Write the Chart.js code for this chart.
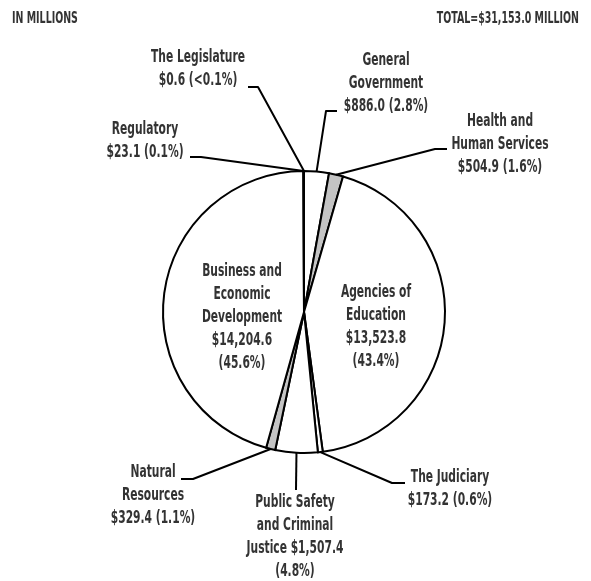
<!DOCTYPE html>
<html>
<head>
<meta charset="utf-8">
<script src="https://cdn.jsdelivr.net/npm/chart.js@4/dist/chart.umd.min.js"></script>
<style>
  html, body { margin: 0; padding: 0; background: #fff; }
  #wrap { position: relative; width: 591px; height: 581px; }
</style>
</head>
<body>
<div id="wrap"><canvas id="budget-pie" width="591" height="581"></canvas></div>
<script>
// 数据（顺时针，从 12 点方向开始）
const categories = [
  'General Government', 'Health and Human Services', 'Agencies of Education',
  'The Judiciary', 'Public Safety and Criminal Justice', 'Natural Resources',
  'Business and Economic Development', 'Regulatory', 'The Legislature'
];
const amounts = [886.0, 504.9, 13523.8, 173.2, 1507.4, 329.4, 14204.6, 23.1, 0.6];
const shares = ['2.8%', '1.6%', '43.4%', '0.6%', '4.8%', '1.1%', '45.6%', '0.1%', '<0.1%'];
const labelLines = [
  ['General', 'Government', '$886.0 (2.8%)'],
  ['Health and', 'Human Services', '$504.9 (1.6%)'],
  ['Agencies of', 'Education', '$13,523.8', '(43.4%)'],
  ['The Judiciary', '$173.2 (0.6%)'],
  ['Public Safety', 'and Criminal', 'Justice $1,507.4', '(4.8%)'],
  ['Natural', 'Resources', '$329.4 (1.1%)'],
  ['Business and', 'Economic', 'Development', '$14,204.6', '(45.6%)'],
  ['Regulatory', '$23.1 (0.1%)'],
  ['The Legislature', '$0.6 (<0.1%)']
];
const sliceColors = ['#ffffff', '#c4c4c4', '#ffffff', '#ffffff', '#ffffff', '#c4c4c4', '#ffffff', '#ffffff', '#ffffff'];
const unitNote = 'IN MILLIONS';
const totalNote = 'TOTAL=$31,153.0 MILLION';

// 标签布局：文字中心 x、首行 y、引线折点（null 表示在饼内，无引线）
const labelLayout = [
  { x: 386, y: 61, elbow: [[337, 111], [326, 111]] },
  { x: 500, y: 122, elbow: [[447, 149], [435, 149]] },
  { x: 376, y: 293, elbow: null },
  { x: 450, y: 478, elbow: [[405, 483], [392, 483]] },
  { x: 295, y: 503, elbow: [[296, 490]] },
  { x: 153, y: 473, elbow: [[181, 479], [193, 479]] },
  { x: 242, y: 272, elbow: null },
  { x: 145, y: 130, elbow: [[190, 157], [201, 157]] },
  { x: 198, y: 58, elbow: [[248, 87], [258, 87]] }
];

const FONT = '"DejaVu Sans Condensed", "DejaVu Sans", sans-serif';
const TEXT_COLOR = '#333333';
const LINE_H = 23;
const SQUEEZE = 0.7; // 横向压缩，近似原图的窄体字

function squeezedText(ctx, t, x, y) {
  ctx.save();
  ctx.translate(x, y);
  ctx.scale(SQUEEZE, 1);
  ctx.fillText(t, 0, 0);
  ctx.restore();
}

// 自绘标签与引线
const calloutPlugin = {
  id: 'callouts',
  afterDatasetsDraw(chart) {
    const { ctx } = chart;
    const arcs = chart.getDatasetMeta(0).data;
    ctx.save();
    ctx.strokeStyle = '#000';
    ctx.lineWidth = 2;
    ctx.lineJoin = 'round';
    arcs.forEach((arc, i) => {
      const lay = labelLayout[i];
      if (!lay.elbow) return;
      const { x, y, startAngle, endAngle, outerRadius } = arc.getProps(['x', 'y', 'startAngle', 'endAngle', 'outerRadius'], true);
      const mid = (startAngle + endAngle) / 2;
      const ax = x + Math.cos(mid) * outerRadius;
      const ay = y + Math.sin(mid) * outerRadius;
      ctx.beginPath();
      ctx.moveTo(lay.elbow[0][0], lay.elbow[0][1]);
      lay.elbow.slice(1).forEach(p => ctx.lineTo(p[0], p[1]));
      ctx.lineTo(ax, ay);
      ctx.stroke();
    });

    ctx.fillStyle = TEXT_COLOR;
    ctx.font = `bold 17px ${FONT}`;
    ctx.textAlign = 'center';
    ctx.textBaseline = 'middle';
    labelLines.forEach((lines, i) => {
      const lay = labelLayout[i];
      lines.forEach((t, k) => squeezedText(ctx, t, lay.x, lay.y + k * LINE_H));
    });

    ctx.font = `bold 15px ${FONT}`;
    ctx.textAlign = 'left';
    squeezedText(ctx, unitNote, 12, 19);
    ctx.textAlign = 'right';
    squeezedText(ctx, totalNote, 579, 19);
    ctx.restore();
  }
};

new Chart(document.getElementById('budget-pie'), {
  type: 'pie',
  data: {
    labels: categories,
    datasets: [{
      data: amounts,
      backgroundColor: sliceColors,
      borderColor: '#000',
      borderWidth: 2,
      borderJoinStyle: 'miter'
    }]
  },
  options: {
    responsive: false,
    animation: false,
    layout: { padding: { left: 162, right: 145, top: 170, bottom: 127 } },
    plugins: {
      legend: { display: false },
      tooltip: { enabled: false }
    }
  },
  plugins: [calloutPlugin]
});
</script>
</body>
</html>
